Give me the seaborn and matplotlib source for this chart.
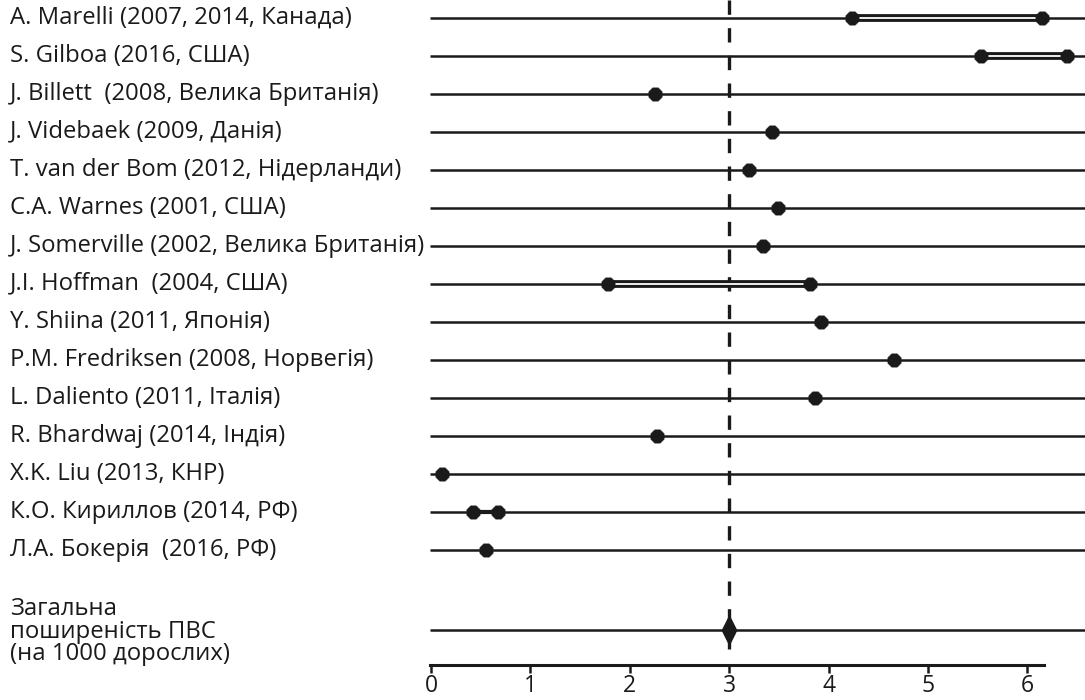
import numpy as np
import pandas as pd
import matplotlib
matplotlib.use("Agg")
import matplotlib.pyplot as plt
import matplotlib.transforms as mtransforms
from matplotlib.path import Path
import seaborn as sns

# ---------------- data ----------------
studies = [
    "A. Marelli (2007, 2014, Канада)",
    "S. Gilboa (2016, США)",
    "J. Billett  (2008, Велика Британія)",
    "J. Videbaek (2009, Данія)",
    "T. van der Bom (2012, Нідерланди)",
    "C.A. Warnes (2001, США)",
    "J. Somerville (2002, Велика Британія)",
    "J.I. Hoffman  (2004, США)",
    "Y. Shiina (2011, Японія)",
    "P.M. Fredriksen (2008, Норвегія)",
    "L. Daliento (2011, Італія)",
    "R. Bhardwaj (2014, Індія)",
    "X.K. Liu (2013, КНР)",
    "К.О. Кириллов (2014, РФ)",
    "Л.А. Бокерія  (2016, РФ)",
]
low_values = [4.24, 5.53, 2.25, 3.43, 3.20, 3.49, 3.34, 1.78, 3.92, 4.66, 3.86, 2.27, 0.11, 0.42, 0.55]
high_values = [6.15, 6.40, 2.25, 3.43, 3.20, 3.49, 3.34, 3.81, 3.92, 4.66, 3.86, 2.27, 0.11, 0.67, 0.55]
total_label = "Загальна\nпоширеність ПВС\n(на 1000 дорослих)"
total_value = 3.0
x_ticks = [0, 1, 2, 3, 4, 5, 6]

# ---------------- styling ----------------
sns.set_theme(style="white")
plt.rcParams["font.family"] = ["Open Sans", "DejaVu Sans"]
INK = "#1a1a1a"

W, H, DPI = 1085, 700, 100
fig = plt.figure(figsize=(W / DPI, H / DPI), dpi=DPI)

x0_px, unit_px = 431.0, 99.4
row0_px, row_step = 17.6, 38.0
ax_left_px, ax_bottom_px = 425.0, 35.0
ax = fig.add_axes([ax_left_px / W, ax_bottom_px / H, 1 - ax_left_px / W, 1 - ax_bottom_px / H])

xmin = (ax_left_px - x0_px) / unit_px
xmax = (W - x0_px) / unit_px
ytop = -row0_px / row_step
ybot = (H - ax_bottom_px - row0_px) / row_step
ax.set_xlim(xmin, xmax)
ax.set_ylim(ybot, ytop)

n = len(studies)
total_y = (630 - row0_px) / row_step
rows = np.arange(n)

# row lines
ax.hlines(list(rows) + [total_y], -0.01, xmax, color=INK, lw=1.8, zorder=1)

# reference dashed line
ax.vlines(total_value, ytop, total_y + 0.5, color=INK, lw=2.4,
          linestyles=[(0, (4.3, 4.0))], zorder=2)

# intervals
for i in range(n):
    lo, hi = low_values[i], high_values[i]
    if hi - lo > 0.001:
        if hi - lo > 0.5:
            ax.plot([lo, hi], [i, i], color=INK, lw=5.6, solid_capstyle="butt", zorder=3)
            ax.plot([lo, hi], [i, i], color="white", lw=1.3, solid_capstyle="butt", zorder=4)
        else:
            ax.plot([lo, hi], [i, i], color=INK, lw=3.0, solid_capstyle="butt", zorder=3)

pts = pd.DataFrame({
    "x": low_values + high_values,
    "y": list(rows) + list(rows),
}).drop_duplicates()
sns.scatterplot(data=pts, x="x", y="y", marker="8", s=105, color=INK,
                edgecolor=INK, linewidth=0.5, zorder=5, ax=ax)

# total diamond
diamond = Path([(0, 1), (0.5, 0), (0, -1), (-0.5, 0), (0, 1)],
               [Path.MOVETO, Path.LINETO, Path.LINETO, Path.LINETO, Path.CLOSEPOLY])
ax.scatter([total_value], [total_y], marker=diamond, s=420, color=INK, zorder=6)

# labels
trans = mtransforms.blended_transform_factory(fig.transFigure, ax.transData)
for i, s in enumerate(studies):
    ax.text(10 / W, i, s, transform=trans, ha="left", va="center", fontsize=17.2,
            color=INK)
ax.text(10 / W, total_y + 0.05, total_label, transform=trans, ha="left", va="center",
        fontsize=17.2, color=INK, linespacing=0.92)

# axes
for sp in ["top", "right", "left"]:
    ax.spines[sp].set_visible(False)
ax.spines["bottom"].set_color(INK)
ax.spines["bottom"].set_linewidth(2.2)
ax.spines["bottom"].set_bounds(-0.01, 6.17)
ax.set_xticks(x_ticks)
ax.set_xticklabels([str(t) for t in x_ticks])
ax.set_yticks([])
ax.tick_params(axis="x", direction="out", length=6, width=1.8, color=INK,
               labelsize=16.5, labelcolor=INK, pad=0.5, bottom=True)
ax.set_xlabel("")
ax.set_ylabel("")
ax.patch.set_alpha(0)

fig.savefig("out.png", dpi=DPI)
